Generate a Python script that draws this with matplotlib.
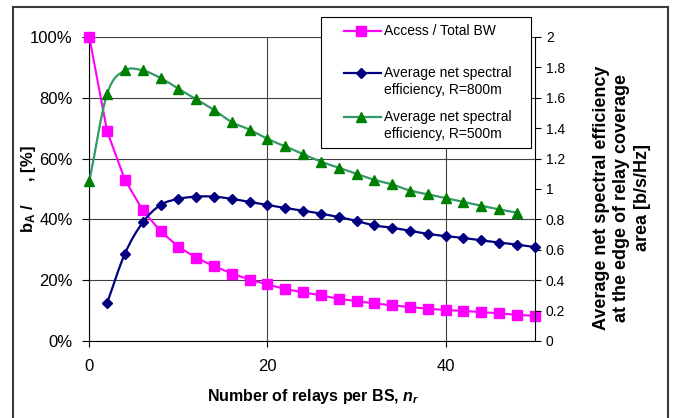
import numpy as np
import matplotlib
matplotlib.use('Agg')
from matplotlib import pyplot as plt
from matplotlib.path import Path
from matplotlib.patches import PathPatch, Rectangle
from matplotlib.lines import Line2D
from matplotlib.ticker import PercentFormatter, FuncFormatter

plt.rcParams['font.family'] = ['Liberation Sans', 'DejaVu Sans']
plt.rcParams['mathtext.fontset'] = 'custom'
plt.rcParams['mathtext.rm'] = 'Liberation Sans:bold'
plt.rcParams['mathtext.it'] = 'Liberation Sans:italic:bold'

# dados
relays_access = list(range(0, 51, 2))
access_bw = [100, 69, 53, 43, 36.1, 31.0, 27.4, 24.6, 22.2, 20.2, 18.6, 17.1, 16.0,
             15.0, 13.9, 13.1, 12.4, 11.7, 11.2, 10.6, 10.2, 9.9, 9.5, 9.1, 8.6, 8.3]

relays_800 = list(range(2, 51, 2))
eff_800 = [0.25, 0.575, 0.78, 0.895, 0.935, 0.95, 0.95, 0.935, 0.915, 0.895, 0.875,
           0.857, 0.838, 0.815, 0.79, 0.76, 0.745, 0.725, 0.705, 0.69, 0.678, 0.662,
           0.648, 0.634, 0.618]

relays_500 = list(range(0, 49, 2))
eff_500 = [1.05, 1.625, 1.78, 1.78, 1.73, 1.66, 1.59, 1.52, 1.44, 1.39, 1.33, 1.28,
           1.23, 1.18, 1.14, 1.10, 1.06, 1.03, 0.99, 0.965, 0.94, 0.915, 0.89, 0.866, 0.844]

W, H = 675, 418


def fx(px):
    return px / W


def fy(py):
    return 1 - py / H


def smooth_path(xs, ys):
    # curva suavizada tipo Excel (Catmull-Rom em Bezier)
    pts = np.column_stack([np.asarray(xs, float), np.asarray(ys, float)])
    tang = np.empty_like(pts)
    tang[1:-1] = (pts[2:] - pts[:-2]) / 2
    tang[0] = pts[1] - pts[0]
    tang[-1] = pts[-1] - pts[-2]
    verts = [pts[0]]
    codes = [Path.MOVETO]
    for i in range(len(pts) - 1):
        verts += [pts[i] + tang[i] / 3, pts[i + 1] - tang[i + 1] / 3, pts[i + 1]]
        codes += [Path.CURVE4] * 3
    return Path(verts, codes)


fig = plt.figure(figsize=(6.75, 4.18), dpi=100)
ax = fig.add_axes([fx(89.3), fy(341), fx(534.7) - fx(89.3), fy(37) - fy(341)])
ax2 = ax.twinx()

ax.set_xlim(0, 50)
ax.set_ylim(0, 100)
ax.set_xticks([0, 20, 40])
ax.set_yticks(range(0, 101, 20))
ax.yaxis.set_major_formatter(PercentFormatter(decimals=0))
ax.grid(color='#404040', linewidth=0.8)
ax.set_axisbelow(True)
ax.tick_params(axis='y', direction='out', length=5, width=0.8, labelsize=12, pad=7)
ax.tick_params(axis='x', direction='out', length=4, width=0.8, labelsize=12, pad=9)
for s in ['top', 'right']:
    ax.spines[s].set_visible(False)
for s in ['left', 'bottom']:
    ax.spines[s].set_linewidth(0.8)

ax2.set_ylim(0, 2)
ax2.set_yticks(np.arange(0, 2.01, 0.2))
ax2.yaxis.set_major_formatter(FuncFormatter(lambda v, _: f'{round(v, 1):g}'))
ax2.tick_params(axis='y', direction='out', length=4, width=0.8, labelsize=10, pad=4)
for s in ['top', 'left', 'bottom']:
    ax2.spines[s].set_visible(False)
ax2.spines['right'].set_linewidth(0.8)

# Access / Total BW
ax.plot(relays_access, access_bw, color='#FF00FF', linewidth=1.5,
        marker='s', markersize=6.5, zorder=3, clip_on=False)

# R=800m
ax2.add_patch(PathPatch(smooth_path(relays_800, eff_800), facecolor='none',
                        edgecolor='#000080', linewidth=1.6, zorder=2))
ax2.plot(relays_800, eff_800, linestyle='none', color='#000080',
         marker='D', markersize=5, zorder=3, clip_on=False)

# R=500m
ax2.add_patch(PathPatch(smooth_path(relays_500, eff_500), facecolor='none',
                        edgecolor='#339966', linewidth=1.6, zorder=2))
ax2.plot(relays_500, eff_500, linestyle='none', color='#008000',
         marker='^', markersize=7, zorder=3, clip_on=False)

# rotulos
fig.text(fx(313), fy(397), r'Number of relays per BS, $n_r$', fontsize=11.5,
         fontweight='bold', ha='center', va='center')
fig.text(fx(28), fy(189), r'b$_\mathrm{A}$ /     , [%]', fontsize=12,
         fontweight='bold', ha='center', va='center', rotation=90)
fig.text(fx(622), fy(198),
         'Average net spectral efficiency\nat the edge of relay coverage\narea [b/s/Hz]',
         fontsize=13, fontweight='bold', ha='center', va='center', rotation=90,
         multialignment='center', linespacing=1.25)

# legenda
fig.add_artist(Rectangle((fx(321), fy(148)), fx(531) - fx(321), fy(17) - fy(148),
                         transform=fig.transFigure, facecolor='white',
                         edgecolor='black', linewidth=0.8, zorder=10))
entries = [
    ('Access / Total BW', 30.7, 30.7, '#FF00FF', '#FF00FF', 's', 6.5),
    ('Average net spectral\nefficiency, R=800m', 72.7, 81.4, '#000080', '#000080', 'D', 5),
    ('Average net spectral\nefficiency, R=500m', 116.7, 125.4, '#339966', '#008000', '^', 7),
]
for label, yh, yt, lc, mc, mk, ms in entries:
    fig.add_artist(Line2D([fx(344), fx(381)], [fy(yh), fy(yh)], color=lc,
                          linewidth=1.6, transform=fig.transFigure, zorder=11))
    fig.add_artist(Line2D([fx(361)], [fy(yh)], color=mc, marker=mk, markersize=ms,
                          linestyle='none', transform=fig.transFigure, zorder=12))
    fig.text(fx(384), fy(yt), label, fontsize=10, ha='left', va='center',
             linespacing=1.2, zorder=12)

# moldura
for xs, ys in [([13.3, 13.3], [7, 420]), ([13.3, 668], [7, 7]), ([668, 668], [7, 420])]:
    fig.add_artist(Line2D([fx(v) for v in xs], [fy(v) for v in ys], color='#3a3a3a',
                          linewidth=1.5, transform=fig.transFigure, zorder=1))

fig.savefig('out.png', dpi=100)
